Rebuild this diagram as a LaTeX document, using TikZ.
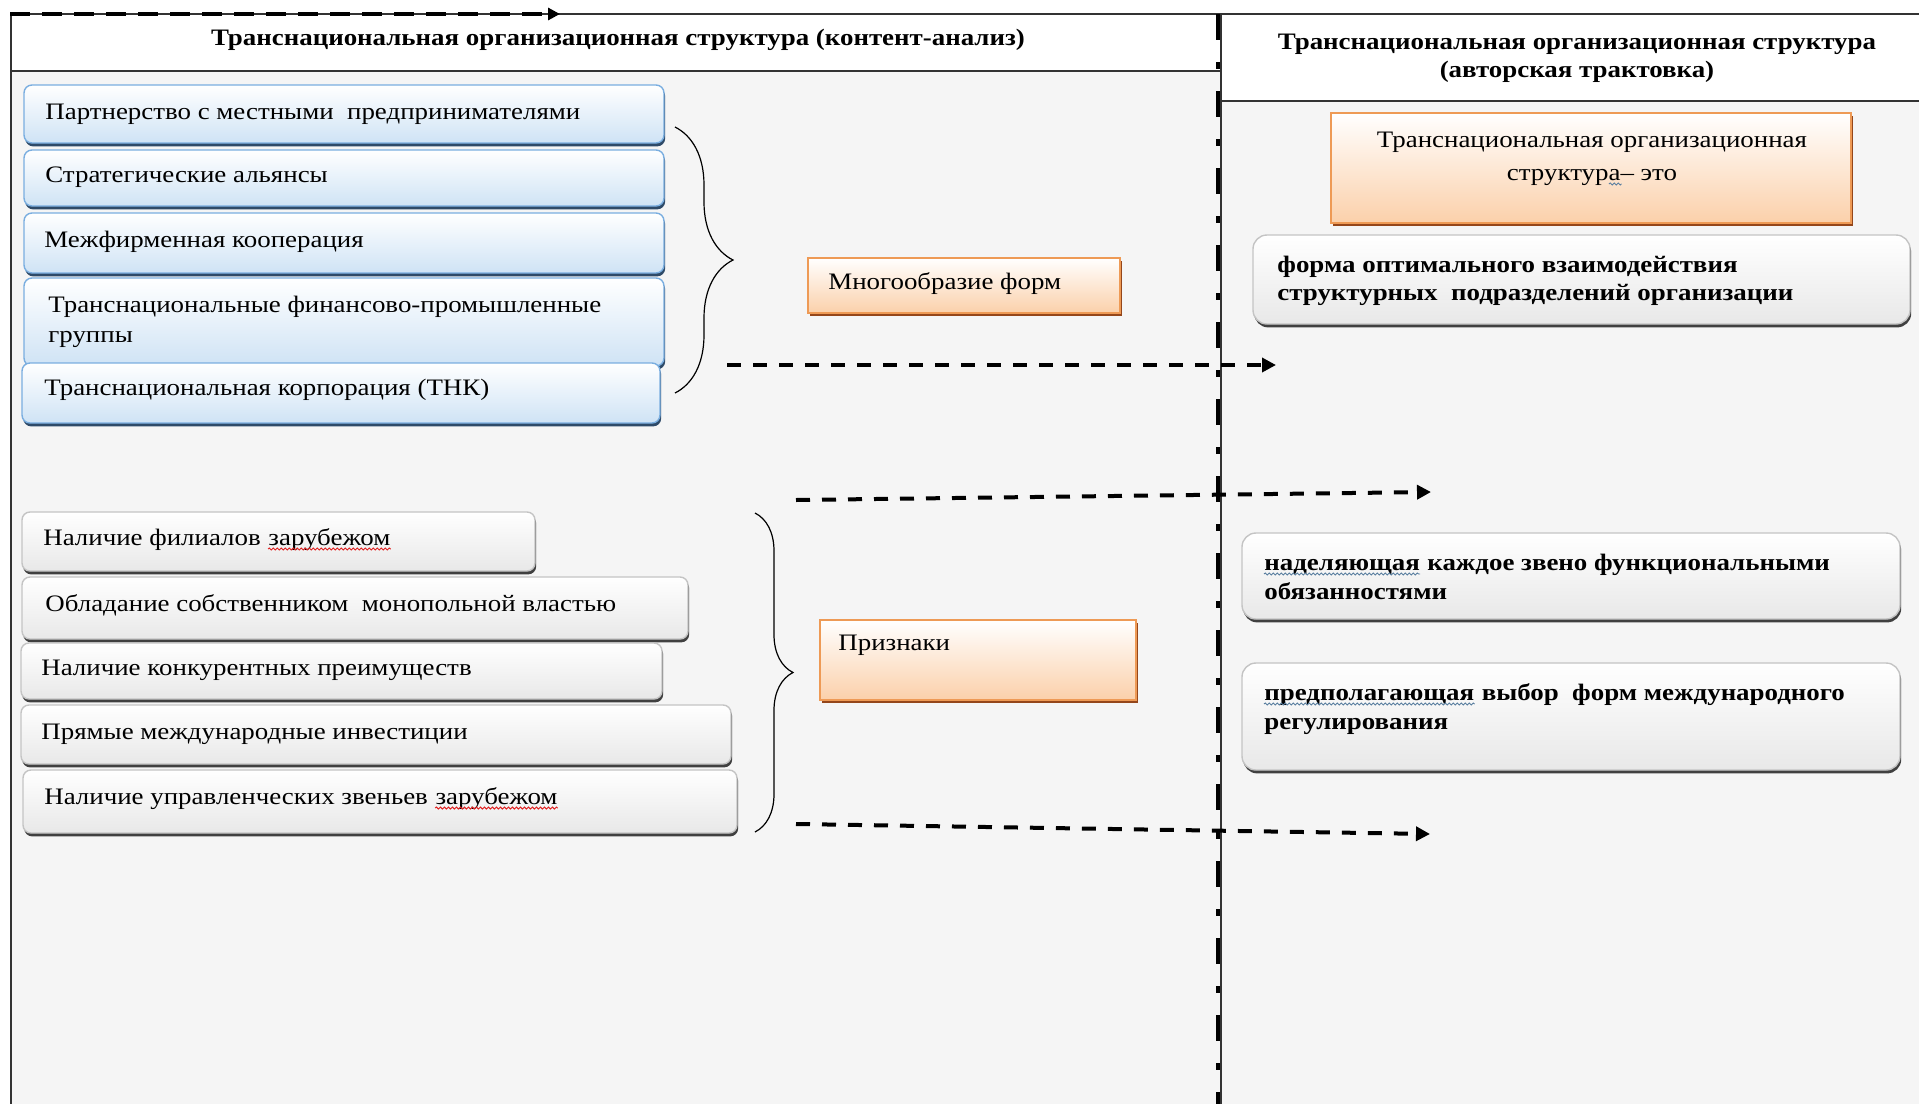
\documentclass[tikz,border=0pt]{standalone}
\usepackage{fontspec}
\setmainfont{Liberation Serif}[FakeStretch=1.14]
\usetikzlibrary{arrows.meta,decorations.pathreplacing,decorations.pathmorphing,shadows,fit}
\definecolor{bggray}{HTML}{F5F5F5}
\definecolor{lineC}{HTML}{333333}
\definecolor{blueB}{HTML}{7AAEE0}
\definecolor{blueF}{HTML}{CFE3F5}
\definecolor{blueS}{HTML}{2E4A68}
\definecolor{oraB}{HTML}{EE9A55}
\definecolor{oraF}{HTML}{FBD0AA}
\definecolor{oraS}{HTML}{94461A}
\definecolor{grayB}{HTML}{C4C4C4}
\definecolor{grayF}{HTML}{E8E8E8}
\definecolor{grayS}{HTML}{404040}
\definecolor{redW}{HTML}{E02020}
\definecolor{blueW}{HTML}{5A7FA0}
\newcommand\bodyfont{\fontsize{11.8}{15}\selectfont}
\tikzset{
  frame/.style={draw=lineC, line width=0.75pt},
  boxbase/.style={inner sep=0pt, line width=0.7pt, rounded corners=4pt},
  bluebox/.style={boxbase, draw=blueB, top color=white, bottom color=blueF,
    general shadow={fill=blueS, shadow xshift=0.6pt, shadow yshift=-1.7pt}},
  graybox/.style={boxbase, draw=grayB, top color=white, bottom color=grayF,
    general shadow={fill=grayS, shadow xshift=0.6pt, shadow yshift=-1.7pt}},
  rgraybox/.style={graybox, rounded corners=7pt},
  orabox/.style={inner sep=0pt, line width=0.8pt, draw=oraB, top color=white, bottom color=oraF,
    general shadow={fill=oraS, shadow xshift=0.8pt, shadow yshift=-1.7pt}},
  txt/.style={inner sep=0pt, anchor=base west, font=\bodyfont},
  btxt/.style={inner sep=0pt, anchor=base west, font=\bodyfont\bfseries},
  dasharrow/.style={line width=2pt, dash pattern=on 7pt off 6pt, -{Triangle[length=7pt,width=7pt]}},
  toparrow/.style={line width=1.6pt, dash pattern=on 10pt off 6pt, -{Triangle[length=6pt,width=6pt]}},
  dividerdash/.style={line width=2.2pt, dash pattern=on 13pt off 11pt on 3.5pt off 11pt},
  bracestyle/.style={decorate, line width=0.6pt},
  squig/.style={decorate, decoration={snake, amplitude=0.5pt, segment length=2pt}, line width=0.45pt},
}
\begin{document}
\begin{tikzpicture}[x=0.5pt, y=-0.5pt]
\useasboundingbox (0,0) rectangle (1919,1104);
% backgrounds
\fill[white] (0,0) rectangle (1919,1104);
\fill[bggray] (11,71) rectangle (1220,1104);
\fill[bggray] (1220,101) rectangle (1919,1104);
% frame lines
\draw[frame] (11,14) -- (1919,14);
\draw[frame] (11,14) -- (11,1104);
\draw[frame] (11,71) -- (1220,71);
\draw[frame] (1220,101) -- (1919,101);
\draw[frame] (1221,14) -- (1221,1104);
\draw[dividerdash] (1218,14) -- (1218,1104);
% top dashed arrow
\coordinate (ts) at (10,14);
\coordinate (te) at (560,14);
\draw[toparrow] (ts) -- (te);
% titles
\node[inner sep=0pt, anchor=base, font=\bodyfont\bfseries] (lt) at (618,45)
  {Транснациональная организационная структура (контент-анализ)};
\node[inner sep=0pt, anchor=base, font=\bodyfont\bfseries] (rt1) at (1577,49)
  {Транснациональная организационная структура};
\node[inner sep=0pt, anchor=base, font=\bodyfont\bfseries] (rt2) at (1577,77)
  {(авторская трактовка)};
% blue boxes
\node[bluebox, fit={(24,85) (664,143)}] (b1) {};
\node[bluebox, fit={(24,150) (664,206)}] (b2) {};
\node[bluebox, fit={(24,213) (664,273)}] (b3) {};
\node[bluebox, fit={(24,278) (664,366)}] (b4) {};
\node[bluebox, fit={(22,363) (660,423)}] (b5) {};
\node[txt] (t1) at (45,119) {Партнерство с местными \ предпринимателями};
\node[txt] (t2) at (45,182) {Стратегические альянсы};
\node[txt] (t3) at (44,247) {Межфирменная кооперация};
\node[txt] (t4a) at (48,312) {Транснациональные финансово-промышленные};
\node[txt] (t4b) at (48,342) {группы};
\node[txt] (t5) at (44,395) {Транснациональная корпорация (ТНК)};
% gray boxes left
\node[graybox, fit={(22,512) (535,571)}] (g1) {};
\node[graybox, fit={(22,577) (688,639)}] (g2) {};
\node[graybox, fit={(21,643) (662,699)}] (g3) {};
\node[graybox, fit={(21,705) (731,764)}] (g4) {};
\node[graybox, fit={(23,770) (737,833)}] (g5) {};
\node[txt] (u1a) at (43,545) {Наличие филиалов};
\node[txt, xshift=3.4pt] (u1b) at (u1a.base east) {зарубежом};
\node[txt] (u2) at (45,611) {Обладание собственником \ монопольной властью};
\node[txt] (u3) at (41,675) {Наличие конкурентных преимуществ};
\node[txt] (u4) at (41,739) {Прямые международные инвестиции};
\node[txt] (u5a) at (44,804) {Наличие управленческих звеньев};
\node[txt, xshift=3.4pt] (u5b) at (u5a.base east) {зарубежом};
\draw[squig, redW] ([yshift=-2pt]u1b.base west) -- ([yshift=-2pt]u1b.base east);
\draw[squig, redW] ([yshift=-2pt]u5b.base west) -- ([yshift=-2pt]u5b.base east);
% braces
\coordinate (br1a) at (675,127);
\coordinate (br1b) at (675,393);
\draw[bracestyle, decoration={brace, amplitude=29pt}] (br1a) -- (br1b);
\coordinate (br2a) at (755,513);
\coordinate (br2b) at (755,832);
\draw[bracestyle, decoration={brace, amplitude=19pt}] (br2a) -- (br2b);
% orange boxes
\node[orabox, fit={(808,258) (1120,313)}] (o1) {};
\node[txt] (o1t) at (828,289) {Многообразие форм};
\node[orabox, fit={(820,620) (1136,700)}] (o2) {};
\node[txt] (o2t) at (838,650) {Признаки};
\node[orabox, fit={(1331,113) (1851,223)}] (o3) {};
\node[inner sep=0pt, anchor=base, font=\bodyfont] (o3a) at (1592,147) {Транснациональная организационная};
\node[inner sep=0pt, anchor=base, font=\bodyfont] (o3b) at (1592,180) {структура– это};
\node[txt] (o3p) at (o3b.base west) {\phantom{структур}};
\node[txt] (o3q) at (o3p.base east) {\phantom{а}};
\draw[squig, blueW] ([yshift=-2pt]o3q.base west) -- ([yshift=-2pt]o3q.base east);
% right gray boxes
\node[rgraybox, fit={(1253,235) (1910,324)}] (r1) {};
\node[btxt] (r1a) at (1277,272) {форма оптимального взаимодействия};
\node[btxt] (r1b) at (1277,300) {структурных \ подразделений организации};
\node[rgraybox, fit={(1242,533) (1900,619)}] (r2) {};
\node[btxt] (r2w) at (1264,570) {наделяющая};
\node[btxt, xshift=3.4pt] (r2a) at (r2w.base east) {каждое звено функциональными};
\node[btxt] (r2b) at (1264,599) {обязанностями};
\draw[squig, blueW] ([yshift=-2pt]r2w.base west) -- ([yshift=-2pt]r2w.base east);
\node[rgraybox, fit={(1242,663) (1900,770)}] (r3) {};
\node[btxt] (r3w) at (1264,700) {предполагающая};
\node[btxt, xshift=3.4pt] (r3a) at (r3w.base east) {выбор \ форм международного};
\node[btxt] (r3b) at (1264,729) {регулирования};
\draw[squig, blueW] ([yshift=-2pt]r3w.base west) -- ([yshift=-2pt]r3w.base east);
% dashed arrows
\coordinate (a1s) at (727,365);
\coordinate (a1e) at (1276,365);
\draw[dasharrow] (a1s) -- (a1e);
\coordinate (a2s) at (796,500);
\coordinate (a2e) at (1431,492);
\draw[dasharrow] (a2s) -- (a2e);
\coordinate (a3s) at (796,824);
\coordinate (a3e) at (1430,834);
\draw[dasharrow] (a3s) -- (a3e);
\end{tikzpicture}
\end{document}
